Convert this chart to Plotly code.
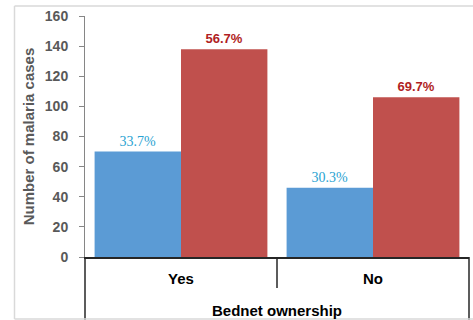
import plotly.graph_objects as go

categories = ["Yes", "No"]
series1_values = [70, 46]
series2_values = [138, 106]
series1_labels = ["33.7%", "30.3%"]
series2_labels = ["56.7%", "69.7%"]
y_ticks = [0, 20, 40, 60, 80, 100, 120, 140, 160]

fig = go.Figure()
fig.add_trace(go.Bar(
    x=categories, y=series1_values, name="s1",
    marker=dict(color="#5b9bd5", line=dict(width=0)),
    text=series1_labels, textposition="outside",
    textfont=dict(family="Liberation Serif", size=14, color="#2aa3d2"),
    cliponaxis=False,
))
fig.add_trace(go.Bar(
    x=categories, y=series2_values, name="s2",
    marker=dict(color="#c0504d", line=dict(width=0)),
    text=series2_labels, textposition="outside",
    textfont=dict(family="Liberation Sans", size=13, color="#b01e23", weight="bold"),
    cliponaxis=False,
))

L, R, T, B = 85, 4, 16, 63
W, H = 473, 320
pw = W - L - R
ph = H - T - B

def px(x):
    return (x - L) / pw

def py(y):
    return (H - B - y) / ph

line_dark = dict(color="#262626", width=1.5)
line_gray = dict(color="#d9d9d9", width=1.5)
shapes = [
    dict(type="line", xref="paper", yref="paper", x0=0, x1=0, y0=0, y1=py(320), line=line_dark),
    dict(type="line", xref="paper", yref="paper", x0=0.5, x1=0.5, y0=0, y1=py(288), line=line_dark),
    dict(type="line", xref="paper", yref="paper", x0=1, x1=1, y0=0, y1=py(320), line=line_dark),
    dict(type="line", xref="paper", yref="paper", x0=px(14.5), x1=px(14.5), y0=py(6), y1=py(319), line=line_gray),
    dict(type="line", xref="paper", yref="paper", x0=px(14.5), x1=px(473), y0=py(6), y1=py(6), line=line_gray),
    dict(type="line", xref="paper", yref="paper", x0=px(14.5), x1=px(473), y0=py(319), y1=py(319), line=line_gray),
]

fig.update_layout(
    width=W, height=H,
    margin=dict(l=L, r=R, t=T, b=B, autoexpand=False),
    paper_bgcolor="white", plot_bgcolor="white",
    showlegend=False,
    barmode="group", bargap=0.1, bargroupgap=0,
    shapes=shapes,
    xaxis=dict(
        showline=True, linecolor="#262626", linewidth=1.5,
        showgrid=False, ticks="", ticklabelstandoff=7,
        tickfont=dict(family="Liberation Sans", size=15, color="#000000", weight="bold"),
        title=dict(text="Bednet ownership", standoff=20,
                   font=dict(family="Liberation Sans", size=15, color="#000000", weight="bold")),
        automargin=False,
    ),
    yaxis=dict(
        range=[0, 160], tickvals=y_ticks,
        showline=True, linecolor="#868686", linewidth=1,
        ticks="outside", ticklen=5, tickcolor="#868686",
        showgrid=False, zeroline=False,
        ticklabelstandoff=8,
        tickfont=dict(family="Liberation Sans", size=14, color="#595959", weight="bold"),
        title=dict(text="Number of malaria cases", standoff=6,
                   font=dict(family="Liberation Sans", size=15, color="#595959", weight="bold")),
        automargin=False,
    ),
)

fig.write_html("out.html", config={"displayModeBar": False},
               post_script="document.body.style.margin='0';document.body.style.padding='0';")
